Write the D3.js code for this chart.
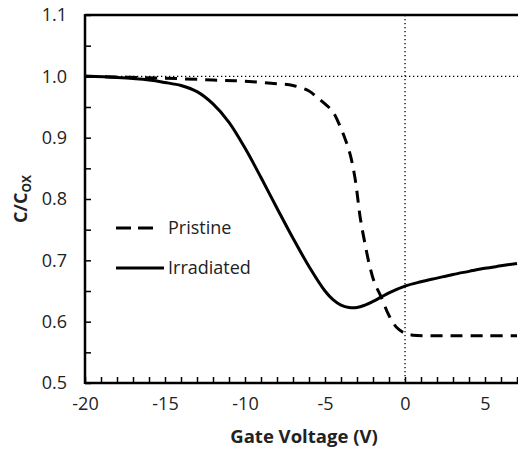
<!DOCTYPE html>
<html>
<head>
<meta charset="utf-8">
<script src="https://cdn.jsdelivr.net/npm/d3@7.9.0/dist/d3.min.js"></script>
<style>
  html, body { margin: 0; padding: 0; background: #fff; }
  svg { display: block; font-family: "Open Sans", "Noto Sans", sans-serif; }
</style>
</head>
<body>
<div id="chart"></div>
<script>
// ---------- Data ----------
const pristineV = [-20, -15, -12, -10, -8, -7, -6, -5.5, -5, -4.5, -4, -3.7, -3.4, -3.1, -2.8, -2.5, -2.2, -1.9, -1.5, -1.0, -0.5, 0, 0.5, 1.5, 3, 5, 7];
const pristineC = [1.0, 0.997, 0.994, 0.992, 0.988, 0.985, 0.976, 0.966, 0.955, 0.942, 0.915, 0.895, 0.87, 0.83, 0.77, 0.727, 0.69, 0.663, 0.641, 0.61, 0.59, 0.581, 0.578, 0.577, 0.577, 0.577, 0.577];

const irradV = [-20, -18, -16, -15, -14, -13, -12, -11, -10, -9, -8, -7, -6, -5, -4.5, -4, -3.5, -3, -2.5, -2, -1.5, -1, 0, 1, 2, 3, 4, 5, 6, 7];
const irradC = [1.0, 0.998, 0.994, 0.990, 0.985, 0.975, 0.955, 0.925, 0.883, 0.835, 0.785, 0.736, 0.69, 0.65, 0.636, 0.627, 0.623, 0.623, 0.627, 0.633, 0.640, 0.647, 0.658, 0.665, 0.671, 0.677, 0.682, 0.687, 0.691, 0.695];

const xTicks = [-20, -15, -10, -5, 0, 5];
const yTicks = [0.5, 0.6, 0.7, 0.8, 0.9, 1.0, 1.1];
const legendLabels = ["Pristine", "Irradiated"];

// ---------- Setup ----------
const width = 518, height = 454;
const margin = { top: 15, right: 1, bottom: 71, left: 85 };

const svg = d3.select("#chart")
  .append("svg")
  .attr("width", width)
  .attr("height", height);

const xScale = d3.scaleLinear()
  .domain([-20, 7])
  .range([margin.left, width - margin.right]);

const yScale = d3.scaleLinear()
  .domain([0.5, 1.1])
  .range([height - margin.bottom, margin.top]);

const x0 = xScale(-20), x1 = width;
const yBottom = yScale(0.5), yTop = yScale(1.1);

// ---------- Reference dotted lines ----------
svg.append("line")
  .attr("x1", x0).attr("x2", x1)
  .attr("y1", yScale(1.0)).attr("y2", yScale(1.0))
  .attr("stroke", "#000").attr("stroke-width", 1.3)
  .attr("stroke-dasharray", "1.3,2.7");

svg.append("line")
  .attr("x1", xScale(0)).attr("x2", xScale(0))
  .attr("y1", yTop).attr("y2", yBottom)
  .attr("stroke", "#000").attr("stroke-width", 1.3)
  .attr("stroke-dasharray", "1.3,2.7");

// ---------- Curves ----------
const line = d3.line()
  .x(d => xScale(d[0]))
  .y(d => yScale(d[1]))
  .curve(d3.curveCatmullRom.alpha(0.5));

svg.append("path")
  .datum(d3.zip(irradV, irradC))
  .attr("d", line)
  .attr("fill", "none")
  .attr("stroke", "#000")
  .attr("stroke-width", 3);

svg.append("path")
  .datum(d3.zip(pristineV, pristineC))
  .attr("d", line)
  .attr("fill", "none")
  .attr("stroke", "#000")
  .attr("stroke-width", 3)
  .attr("stroke-dasharray", "12,8");

// ---------- Axes ----------
const xAxis = svg.append("g")
  .attr("transform", `translate(0,${yBottom})`)
  .call(d3.axisBottom(xScale)
    .tickValues(d3.range(-20, 8, 1))
    .tickSize(-6)
    .tickFormat(d => xTicks.includes(d) ? d : ""));

xAxis.select(".domain").remove();
xAxis.selectAll(".tick line").attr("stroke-width", 1.5);
xAxis.selectAll(".tick text")
  .attr("y", 14)
  .attr("font-size", 18)
  .attr("fill", "#222")
  .style("font-family", "'Open Sans', sans-serif");

const yAxis = svg.append("g")
  .attr("transform", `translate(${x0},0)`)
  .call(d3.axisLeft(yScale)
    .tickValues(d3.range(0, 13).map(i => +(0.5 + i * 0.05).toFixed(2)))
    .tickSize(-6)
    .tickFormat(d => yTicks.some(t => Math.abs(t - d) < 1e-9) ? d3.format(".1f")(d) : ""));

yAxis.select(".domain").remove();
yAxis.selectAll(".tick line").attr("stroke-width", 1.5);
yAxis.selectAll(".tick text")
  .attr("x", -18)
  .attr("font-size", 18)
  .attr("fill", "#222")
  .style("font-family", "'Open Sans', sans-serif");

// axis frame lines
svg.append("line")
  .attr("x1", x0).attr("x2", x0)
  .attr("y1", yTop - 1).attr("y2", yBottom + 1)
  .attr("stroke", "#000").attr("stroke-width", 2.5);
svg.append("line")
  .attr("x1", x0).attr("x2", x1)
  .attr("y1", yBottom).attr("y2", yBottom)
  .attr("stroke", "#000").attr("stroke-width", 2.5);
svg.append("line")
  .attr("x1", x0).attr("x2", x1)
  .attr("y1", yTop).attr("y2", yTop)
  .attr("stroke", "#000").attr("stroke-width", 2.5);

// ---------- Axis titles ----------
svg.append("text")
  .attr("x", 304)
  .attr("y", 443)
  .attr("text-anchor", "middle")
  .attr("font-size", 18.5)
  .attr("font-weight", "bold")
  .attr("fill", "#222")
  .text("Gate Voltage (V)");

const yTitle = svg.append("text")
  .attr("transform", `translate(27,${(yTop + yBottom) / 2}) rotate(-90)`)
  .attr("text-anchor", "middle")
  .attr("font-size", 18)
  .attr("font-weight", "bold")
  .attr("fill", "#222");
yTitle.append("tspan").text("C/C");
yTitle.append("tspan").attr("font-size", 12).attr("dy", 4).text("OX");

// ---------- Legend ----------
const legend = svg.append("g");
const legendY = [228, 268];
legend.selectAll("line")
  .data(legendLabels)
  .join("line")
  .attr("x1", 116).attr("x2", (d, i) => i === 0 ? 153 : 164)
  .attr("y1", (d, i) => legendY[i]).attr("y2", (d, i) => legendY[i])
  .attr("stroke", "#000").attr("stroke-width", 3)
  .attr("stroke-dasharray", (d, i) => i === 0 ? "15,7" : null);

legend.selectAll("text")
  .data(legendLabels)
  .join("text")
  .attr("x", 168)
  .attr("y", (d, i) => legendY[i] + 6)
  .attr("font-size", 18)
  .attr("fill", "#222")
  .text(d => d);
</script>
</body>
</html>
